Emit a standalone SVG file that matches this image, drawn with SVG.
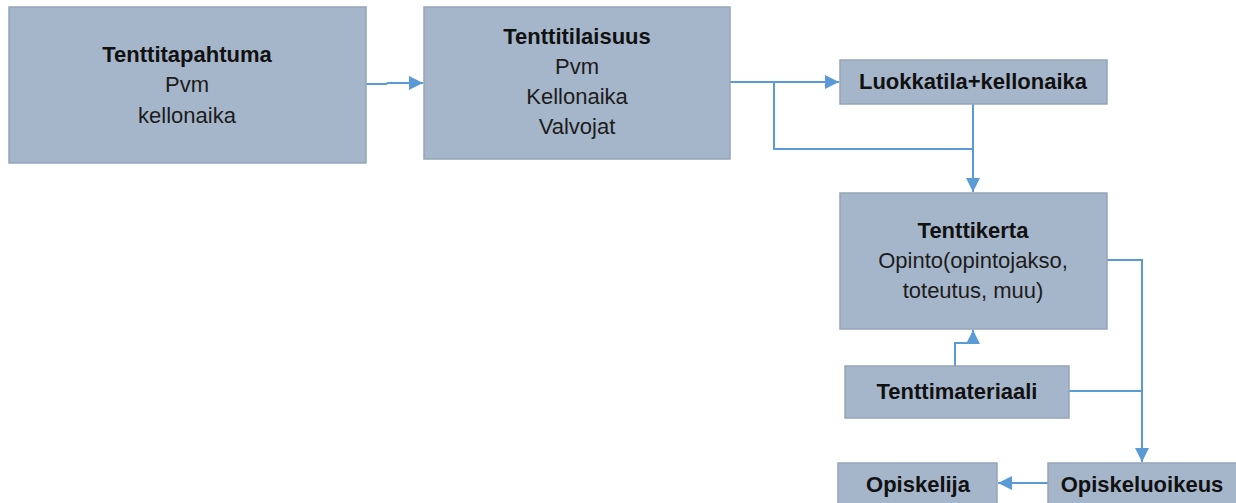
<svg xmlns="http://www.w3.org/2000/svg" width="1236" height="503" viewBox="0 0 1236 503">
<style>
.box{fill:#A6B6CA;stroke:#95A5B9;stroke-width:1.5}
.t{font-family:"Liberation Sans",Arial,sans-serif;font-size:22px;fill:#1c1c1c;text-anchor:middle}
.b{font-weight:bold;fill:#111}
.c{fill:none;stroke:#5B9BD5;stroke-width:2}
</style>
<defs>
<marker id="ah" viewBox="0 0 10 10" refX="10" refY="5" markerWidth="14" markerHeight="14" markerUnits="userSpaceOnUse" orient="auto">
<path d="M0,0 L10,5 L0,10 z" fill="#5B9BD5"/>
</marker>
</defs>
<rect width="1236" height="503" fill="#fff"/>
<g id="connectors">
<path class="c" d="M366,84 L386,84 L388,83 L423,83" marker-end="url(#ah)"/>
<path class="c" d="M730,82 L839,82" marker-end="url(#ah)"/>
<path class="c" d="M774,82 L774,149 L973,149"/>
<path class="c" d="M973,104 L973,192" marker-end="url(#ah)"/>
<path class="c" d="M1107,260 L1142,260 L1142,462" marker-end="url(#ah)"/>
<path class="c" d="M1069,391 L1142,391"/>
<path class="c" d="M955,366 L955,343 L973,343 L973,330" marker-end="url(#ah)"/>
<path class="c" d="M1048,483 L998,483" marker-end="url(#ah)"/>
</g>
<g id="n1"><rect class="box" x="9" y="7" width="357" height="156"/>
<text class="t b" x="187" y="62">Tenttitapahtuma</text>
<text class="t" x="187" y="92">Pvm</text>
<text class="t" x="187" y="123">kellonaika</text></g>
<g id="n2"><rect class="box" x="424" y="7" width="306" height="152"/>
<text class="t b" x="577" y="44">Tenttitilaisuus</text>
<text class="t" x="577" y="74">Pvm</text>
<text class="t" x="577" y="104">Kellonaika</text>
<text class="t" x="577" y="134">Valvojat</text></g>
<g id="n3"><rect class="box" x="840" y="60" width="267" height="44"/>
<text class="t b" x="973" y="89">Luokkatila+kellonaika</text></g>
<g id="n4"><rect class="box" x="840" y="193" width="267" height="136"/>
<text class="t b" x="973" y="238">Tenttikerta</text>
<text class="t" x="973" y="268">Opinto(opintojakso,</text>
<text class="t" x="973" y="298">toteutus, muu)</text></g>
<g id="n5"><rect class="box" x="845" y="366" width="224" height="52"/>
<text class="t b" x="957" y="399">Tenttimateriaali</text></g>
<g id="n6"><rect class="box" x="838" y="463" width="159" height="48"/>
<text class="t b" x="918" y="492">Opiskelija</text></g>
<g id="n7"><rect class="box" x="1048" y="463" width="190" height="48"/>
<text class="t b" x="1142" y="492">Opiskeluoikeus</text></g>
</svg>
